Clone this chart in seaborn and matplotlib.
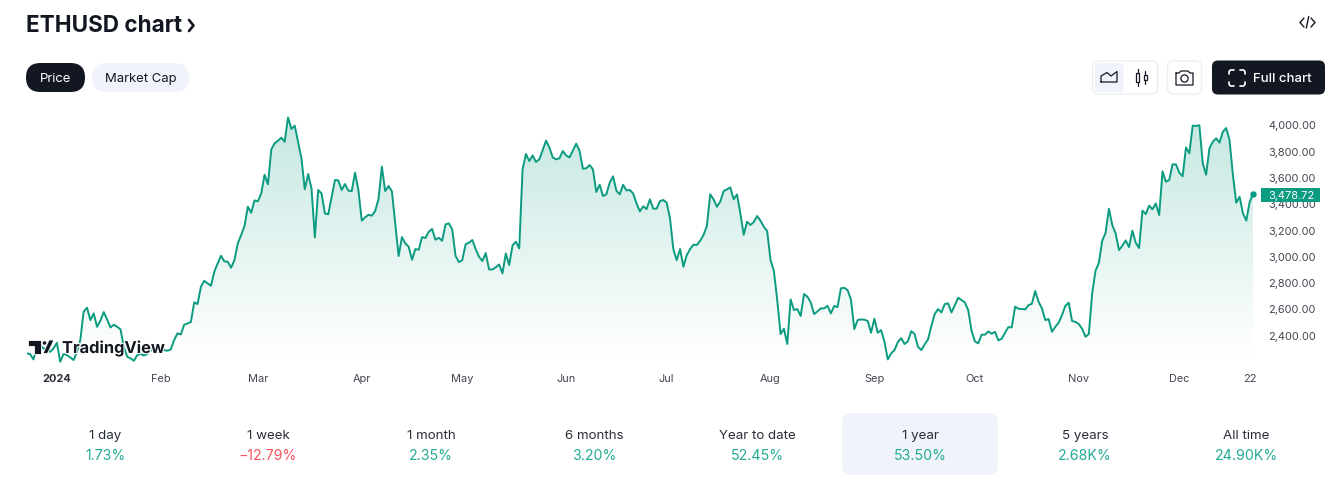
import numpy as np
import pandas as pd
import matplotlib
matplotlib.use("Agg")
import matplotlib.pyplot as plt
import matplotlib.dates as mdates
import matplotlib.patheffects as pe
from matplotlib.patches import FancyBboxPatch, Polygon, Rectangle, Circle
from matplotlib.colors import LinearSegmentedColormap
import seaborn as sns

# daily ETHUSD close
prices = [
    2266, 2261, 2220, 2304, 2329, 2304, 2291, 2278, 2304, 2347, 2202, 2261, 2253, 2235, 2215, 2278, 2367,
    2583, 2613, 2519, 2570, 2468, 2514, 2580, 2524, 2463, 2484, 2468, 2448, 2316, 2240, 2228, 2210, 2253,
    2261, 2250, 2261, 2291, 2278, 2278, 2291, 2291, 2286, 2296, 2367, 2418, 2410, 2484, 2494, 2504, 2654,
    2641, 2773, 2818, 2798, 2780, 2887, 2950, 3008, 2965, 2963, 2917, 2975, 3102, 3166, 3234, 3381, 3335,
    3429, 3422, 3482, 3624, 3551, 3817, 3863, 3883, 3906, 3875, 4060, 3972, 3997, 3875, 3749, 3513, 3629,
    3520, 3148, 3508, 3482, 3330, 3323, 3452, 3584, 3581, 3508,
    3553, 3503, 3500, 3640, 3508, 3275, 3300, 3320, 3313, 3348, 3439, 3685, 3500, 3538, 3498, 3254, 3006,
    3150, 3102, 3077, 2978, 3059, 3054, 3150, 3143, 3191, 3211, 3130, 3145, 3122, 3247, 3254, 3209, 3006,
    2960, 2975, 3095, 3107, 3128, 3059, 3001, 2968, 3029, 2904, 2904, 2920, 2942, 2874, 3026, 2937, 3087,
    3115, 3064, 3665, 3782, 3728, 3771, 3721, 3741, 3812, 3883, 3832, 3756, 3741, 3749, 3804, 3771, 3756,
    3807, 3860, 3807, 3670, 3673, 3698, 3665, 3493, 3548, 3462, 3475, 3564, 3612, 3503, 3475, 3548, 3505,
    3508, 3482, 3406, 3346, 3384, 3363, 3437, 3366, 3366, 3424, 3432, 3411, 3292, 3057, 2975, 3059,
    2925, 3013, 3059, 3092, 3090, 3122, 3166, 3234, 3475, 3437, 3381, 3419, 3500, 3513, 3528, 3437, 3475,
    3330, 3168, 3267, 3242, 3264, 3310, 3275, 3229, 3196, 2975, 2894, 2671, 2413, 2453, 2337, 2676, 2595,
    2603, 2550, 2717, 2697, 2654, 2565, 2585, 2608, 2608, 2628, 2570, 2626, 2618, 2760, 2765, 2747, 2676,
    2451, 2519, 2524, 2522, 2512, 2423, 2529, 2423, 2443, 2354, 2220, 2266, 2291, 2352, 2382, 2337, 2357,
    2435, 2413, 2316, 2291, 2334, 2372, 2474, 2565, 2603, 2577, 2641, 2646, 2577, 2631, 2689, 2671, 2654,
    2595, 2438, 2357, 2342, 2408, 2408, 2433, 2415, 2430, 2365, 2377, 2423, 2466, 2463, 2621, 2605,
    2603, 2600, 2633, 2643, 2740, 2659, 2608, 2519, 2527, 2430, 2468, 2499, 2557, 2628, 2651, 2512, 2506,
    2489, 2453, 2392, 2413, 2722, 2894, 2955, 3122, 3183, 3366, 3242, 3178, 3051, 3084, 3125, 3074, 3199,
    3107, 3067, 3351, 3325, 3389, 3361, 3406, 3318, 3650, 3571, 3584, 3703, 3703, 3640, 3612, 3832, 3787,
    3997, 3995, 4000, 3711, 3624, 3825, 3875, 3901, 3868, 3951, 3979, 3888, 3622, 3411, 3457, 3330, 3275,
    3417, 3478.72,
]
first_day = "2023-12-23"
last_day = "2024-12-23"
y_ticks = [2400, 2600, 2800, 3000, 3200, 3400, 3600, 3800, 4000]
x_tick_dates = ["2024-01-01", "2024-02-01", "2024-03-01", "2024-04-01", "2024-05-01", "2024-06-01",
                "2024-07-01", "2024-08-01", "2024-09-01", "2024-10-01", "2024-11-01", "2024-12-01", "2024-12-22"]
x_tick_labels = ["2024", "Feb", "Mar", "Apr", "May", "Jun", "Jul", "Aug", "Sep", "Oct", "Nov", "Dec", "22"]
periods = ["1 day", "1 week", "1 month", "6 months", "Year to date", "1 year", "5 years", "All time"]
changes = ["1.73%", "\u221212.79%", "2.35%", "3.20%", "52.45%", "53.50%", "2.68K%", "24.90K%"]
period_x = [105, 268, 431, 594, 757, 920, 1085, 1246]

W, H = 1338, 483
GREEN = "#0b9b80"
TEXT_GREEN = "#22ab94"
DARK = "#131722"
PALE = "#f0f3fa"
RED = "#f7525f"

sns.set_theme(style="white")
plt.rcParams["font.family"] = ["Inter", "DejaVu Sans"]

df = pd.DataFrame({
    "date": pd.date_range(first_day, last_day, periods=len(prices)),
    "price": prices,
})

fig = plt.figure(figsize=(W / 100, H / 100), dpi=100, facecolor="white")

# chart axes, placed so the price scale lands where it does in the picture
left, right, top, bottom = 26.7, 1253, 112, 366
ax = fig.add_axes([left / W, 1 - bottom / H, (right - left) / W, (bottom - top) / H])
ax.set_facecolor("none")
y_lo, y_hi = 2170, 4101

x0, x1 = mdates.date2num(df["date"].iloc[0]), mdates.date2num(df["date"].iloc[-1])

# gradient under the line
cmap = LinearSegmentedColormap.from_list("fade", [(0.03, 0.6, 0.5, 0.0), (0.03, 0.6, 0.5, 0.235)])
grad = np.linspace(1, 0, 256).reshape(-1, 1)
im = ax.imshow(grad, extent=[x0, x1, 2225, 4060], aspect="auto", cmap=cmap, vmin=0, vmax=1, zorder=1)
poly = ax.fill_between(df["date"], df["price"], y_lo, color="none", lw=0)
im.set_clip_path(poly.get_paths()[0], transform=ax.transData)

sns.lineplot(data=df, x="date", y="price", ax=ax, color=GREEN, linewidth=1.4, zorder=3, legend=False)
ax.plot(df["date"].iloc[-1], df["price"].iloc[-1], "o", color=GREEN, ms=3.6, clip_on=False, zorder=4)

ax.set_xlim(x0, x1)
ax.set_ylim(y_lo, y_hi)
ax.set_xlabel("")
ax.set_ylabel("")
ax.yaxis.tick_right()
ax.set_yticks(y_ticks)
ax.set_yticklabels([f"{v:,.2f}" for v in y_ticks], fontsize=7.9, color="#434651")
ax.set_xticks(mdates.date2num(pd.to_datetime(x_tick_dates)))
ax.set_xticklabels(x_tick_labels, fontsize=7.9, color="#434651")
ax.get_xticklabels()[0].set_fontweight("bold")
ax.get_xticklabels()[0].set_color("#2a2e39")
ax.tick_params(axis="y", length=0, pad=11)
ax.tick_params(axis="x", length=0, pad=5.8)
sns.despine(ax=ax, left=True, bottom=True, right=True, top=True)

# page furniture, in pixel coordinates
ui = fig.add_axes([0, 0, 1, 1])
ui.set_xlim(0, W)
ui.set_ylim(H, 0)
ui.axis("off")
ui.patch.set_alpha(0)


def pill(x, y, w, h, r, fc, ec="none", lw=1):
    ui.add_patch(FancyBboxPatch((x + r, y + r), w - 2 * r, h - 2 * r,
                                boxstyle=f"round,pad={r},rounding_size={r}", fc=fc, ec=ec, lw=lw))


def stroke(xs, ys, color=DARK, lw=1.1):
    ui.plot(xs, ys, color=color, lw=lw, solid_capstyle="round", solid_joinstyle="round")


ui.text(26, 32, "ETHUSD chart", fontsize=16.2, fontweight="bold", color=DARK, va="baseline")
stroke([189, 193.5, 189], [20, 25.5, 31], lw=1.9)
stroke([1304, 1300, 1304], [18, 22.5, 27], lw=1.0)
stroke([1311, 1315, 1311], [18, 22.5, 27], lw=1.0)
stroke([1306.3, 1308.7], [28, 16.5], lw=1.0)

pill(26, 63, 59, 29, 14.5, DARK)
ui.text(55.5, 82, "Price", fontsize=9.4, color="white", ha="center", va="baseline")
pill(92, 63, 97, 29, 14.5, PALE)
ui.text(140.5, 82, "Market Cap", fontsize=9.4, color=DARK, ha="center", va="baseline")

# chart type toggle
pill(1092.5, 61, 65, 33, 6, "white", "#eceef3")
pill(1095, 63, 28.5, 29, 4, PALE)
stroke([1101, 1101, 1107, 1111, 1117, 1117, 1101], [82, 76, 72.5, 76, 71.5, 82, 82], lw=0.9)
stroke([1137.5, 1137.5], [69, 86], lw=0.9)
ui.add_patch(Rectangle((1136, 72.5), 3, 9, fc="white", ec=DARK, lw=0.9, zorder=3))
stroke([1145, 1145], [71, 84], lw=0.9)
ui.add_patch(Rectangle((1143.5, 74.5), 3, 5.5, fc="white", ec=DARK, lw=0.9, zorder=3))

# camera
pill(1167.5, 61, 34, 33, 6, "white", "#eceef3")
stroke([1176, 1179, 1181, 1188, 1190, 1193, 1193, 1176, 1176], [73, 73, 71, 71, 73, 73, 85, 85, 73], lw=0.9)
ui.add_patch(Circle((1184.5, 78.5), 3.6, fc="none", ec=DARK, lw=0.9))

# full chart button
pill(1212, 60.5, 113, 34, 6, DARK)
for sx, cx in ((1, 1229), (-1, 1245)):
    stroke([cx + sx * 5, cx + sx * 1.5, cx, cx], [70, 70, 71.5, 74], color="white", lw=1.2)
    stroke([cx + sx * 5, cx + sx * 1.5, cx, cx], [86, 86, 84.5, 82], color="white", lw=1.2)
ui.text(1253, 82.5, "Full chart", fontsize=9.5, fontweight="medium", color="white", va="baseline")

# last price tag
ui.add_patch(Rectangle((1261, 188), 58.5, 14, fc=GREEN, ec="none"))
ui.text(1291, 199, "3,478.72", fontsize=7.9, color="white", ha="center", va="baseline")

# TradingView watermark
halo = [pe.withStroke(linewidth=1.6, foreground="white")]
for pts in ([(28, 340), (41, 340), (41, 353.5), (33.5, 353.5), (33.5, 345.5), (28, 345.5)],
            [(43, 353.5), (49, 340), (54, 340), (47.5, 353.5)]):
    ui.add_patch(Polygon(pts, closed=True, fc=DARK, ec="white", lw=0.6, zorder=5))
ui.add_patch(Circle((44.5, 343), 2.1, fc=DARK, ec="white", lw=0.4, zorder=5))
ui.text(62, 353, "TradingView", fontsize=11.8, fontweight="bold", color=DARK, va="baseline",
        path_effects=halo, zorder=6)

# performance strip
pill(842, 413, 156, 62, 10, PALE)
for px, name, chg in zip(period_x, periods, changes):
    ui.text(px, 439, name, fontsize=9.6, color="#2a2e39", ha="center", va="baseline")
    col = RED if chg.startswith("\u2212") else TEXT_GREEN
    ui.text(px, 459.5, chg, fontsize=10.2, color=col, ha="center", va="baseline")

fig.savefig("out.png", dpi=100)
